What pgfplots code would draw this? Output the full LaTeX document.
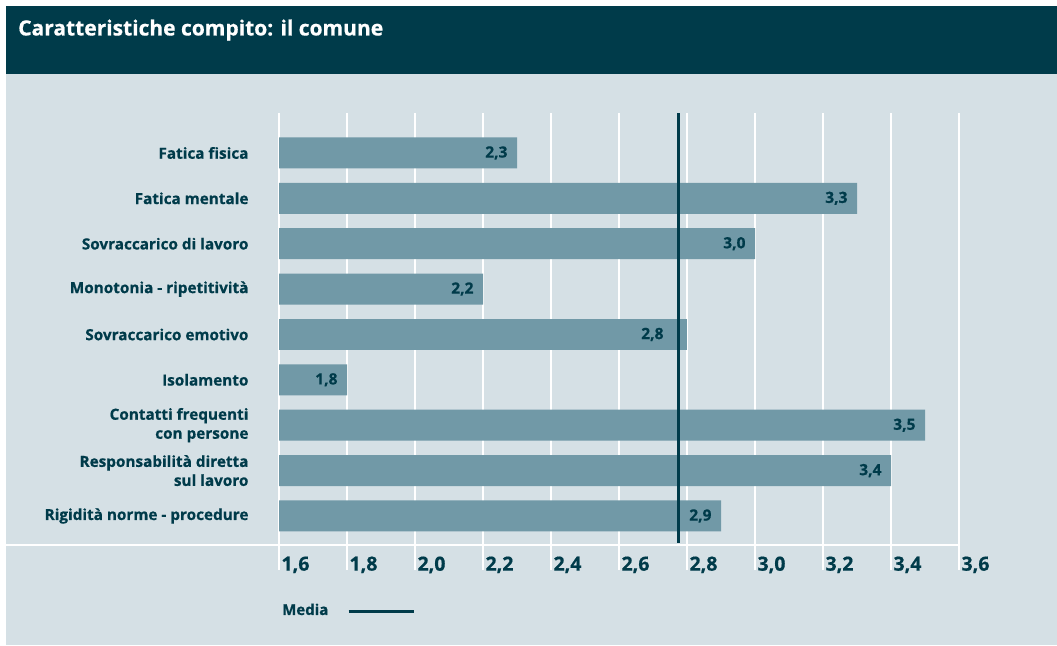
\documentclass[border=0pt]{standalone}
\usepackage{pgfplots}
\pgfplotsset{compat=1.18}
\usepackage{fontspec}
\setmainfont{Open Sans}[BoldFeatures={FakeBold=0.6}]
\definecolor{dark}{HTML}{003B4A}
\definecolor{bg}{HTML}{D5E0E5}
\definecolor{barc}{HTML}{7199A7}
\begin{document}
\begin{tikzpicture}[x=1pt,y=1pt]
\fill[white] (0,0) rectangle (1057,-645);
\fill[bg] (6,-74) rectangle (1057,-645);
\fill[dark] (6,-6) rectangle (1057,-74);
\node[anchor=west,text=white,font=\bfseries\fontsize{21}{24}\selectfont,inner sep=0pt] at (18,-30) {Caratteristiche compito: il comune};
\begin{axis}[at={(279pt,-545pt)}, anchor=south west, scale only axis,
  width=680pt, height=432pt,
  xmin=1.6, xmax=3.6, ymin=-0.88, ymax=8.64, y dir=reverse,
  axis line style={draw=none},
  xtick={1.6,1.8,...,3.61}, xtick pos=bottom,
  xticklabels={{1,6},{1,8},{2,0},{2,2},{2,4},{2,6},{2,8},{3,0},{3,2},{3,4},{3,6}},
  xmajorgrids, major grid style={white, line width=1.2pt},
  x tick style={white, line width=1.2pt}, tick align=outside, major tick length=25pt,
  xticklabel style={anchor=north west, xshift=-1pt, yshift=17pt, font=\bfseries\fontsize{19.5}{22}\selectfont, text=dark},
  ytick={0,...,8},
  y tick style={draw=none},
  yticklabels={{Fatica fisica},{Fatica mentale},{Sovraccarico di lavoro},{Monotonia - ripetitività},{Sovraccarico emotivo},{Isolamento},{Contatti frequenti\\con persone},{Responsabilità diretta\\sul lavoro},{Rigidità norme - procedure}},
  yticklabel style={align=right, anchor=east, xshift=-2pt, font=\bfseries\fontsize{15.3}{19}\selectfont, text=dark},
  /pgf/number format/.cd, use comma, fixed, fixed zerofill, precision=1, assume math mode=true, /pgfplots/.cd,
  legend style={at={(axis description cs:0,0)}, anchor=west, xshift=-2pt, yshift=-65pt, draw=none, fill=none, font=\bfseries\fontsize{15}{17}\selectfont, text=dark},
  legend plot pos=right,
  barstyle/.style={xbar, fill=barc, draw=none, bar width=31pt, forget plot,
    nodes near coords, point meta=x,
    nodes near coords style={anchor=east, xshift=#1, font=\bfseries\fontsize{15.5}{17}\selectfont, text=dark}},
]
\addplot[barstyle=-6pt]
  coordinates {(2.3,0) (3.3,1) (3.0,2) (2.2,3) (1.8,5) (3.5,6) (3.4,7) (2.9,8)};
\addplot[barstyle=-20pt]
  coordinates {(2.8,4)};
\addplot[dark, line width=3pt, legend image code/.code={\draw[dark, line width=2.5pt] (0pt,-1.5pt) -- (65pt,-1.5pt);}]
  coordinates {(2.776,-0.88) (2.776,8.6)};
\addlegendentry{Media\hspace*{17pt}}
\end{axis}
\draw[white, line width=2pt] (6,-545) -- (959,-545);
\end{tikzpicture}
\end{document}
